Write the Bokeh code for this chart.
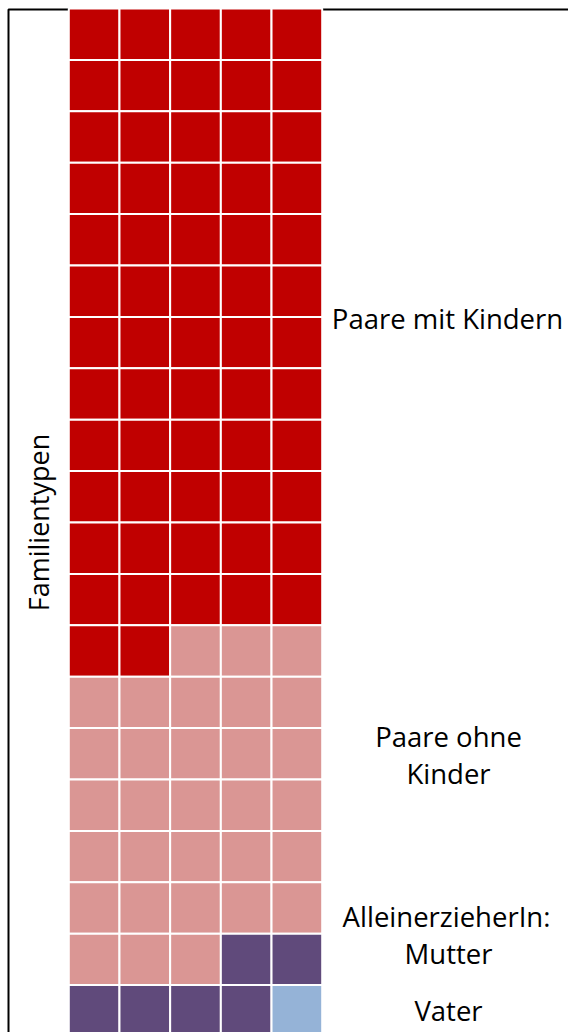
import math
from bokeh.plotting import figure
from bokeh.models import Range1d, BoxAnnotation, Label, ColumnDataSource
from bokeh.embed import file_html
from bokeh.resources import INLINE

# ---- data ----
categories = ["Paare mit Kindern", "Paare ohne Kinder", "AlleinerzieherIn: Mutter", "AlleinerzieherIn: Vater"]
counts = [62, 31, 6, 1]
colors = ["#C00000", "#DA9694", "#604A7B", "#95B3D7"]
n_cols = 5
axis_title = "Familientypen"

# ---- build waffle cells ----
left, right, top, bottom, fill = [], [], [], [], []
idx = 0
for cat, cnt, col in zip(categories, counts, colors):
    for _ in range(cnt):
        r, c = divmod(idx, n_cols)
        left.append(c)
        right.append(c + 1)
        top.append(r)
        bottom.append(r + 1)
        fill.append(col)
        idx += 1
src = ColumnDataSource(dict(left=left, right=right, top=top, bottom=bottom, fill=fill))

W, H = 568, 1032
cell_w, cell_h = 50.68, 51.4
grid_x0 = 68.3   # px of grid left
grid_y0 = 8.0    # px of grid top
x0 = -grid_x0 / cell_w
x1 = x0 + W / cell_w
y_top = -grid_y0 / cell_h
y_bottom = y_top + H / cell_h

p = figure(width=W, height=H, output_backend="svg", toolbar_location=None,
           x_range=Range1d(x0, x1), y_range=Range1d(y_bottom, y_top),
           min_border=0, min_border_left=0, min_border_right=0,
           min_border_top=0, min_border_bottom=0)
p.axis.visible = False
p.xgrid.visible = False
p.ygrid.visible = False
p.outline_line_color = None
p.background_fill_color = "white"
p.border_fill_color = "white"

def px_to_x(px):
    return (px - grid_x0) / cell_w

def px_to_y(py):
    return (py - grid_y0) / cell_h

# chart frame: only its top and left edges lie inside the visible area
p.add_layout(BoxAnnotation(left=px_to_x(8.0), top=px_to_y(9.0),
                           right=px_to_x(W + 20), bottom=px_to_y(H + 20),
                           fill_alpha=0, line_color="black", line_alpha=1.0,
                           line_width=2, level="underlay", editable=False))

p.quad(left="left", right="right", top="top", bottom="bottom", source=src,
       fill_color="fill", line_color="white", line_width=2)

font = "Open Sans"
fs = "27.5px"

label_lines = [
    ("Paare mit Kindern", 447, 318),
    ("Paare ohne", 448, 736),
    ("Kinder", 448, 773),
    ("AlleinerzieherIn:", 446, 916),
    ("Mutter", 448, 953),
    ("Vater", 448, 1010),
]
for txt, xp, yp in label_lines:
    p.add_layout(Label(x=px_to_x(xp), y=px_to_y(yp), text=txt, text_align="center",
                       text_baseline="middle", text_font=font, text_font_size=fs,
                       text_color="black"))

p.add_layout(Label(x=px_to_x(38), y=px_to_y(522), text=axis_title, angle=math.pi / 2,
                   text_align="center", text_baseline="middle", text_font=font,
                   text_font_size="27px", text_color="black"))

open("out.html", "w").write(file_html(p, INLINE))
